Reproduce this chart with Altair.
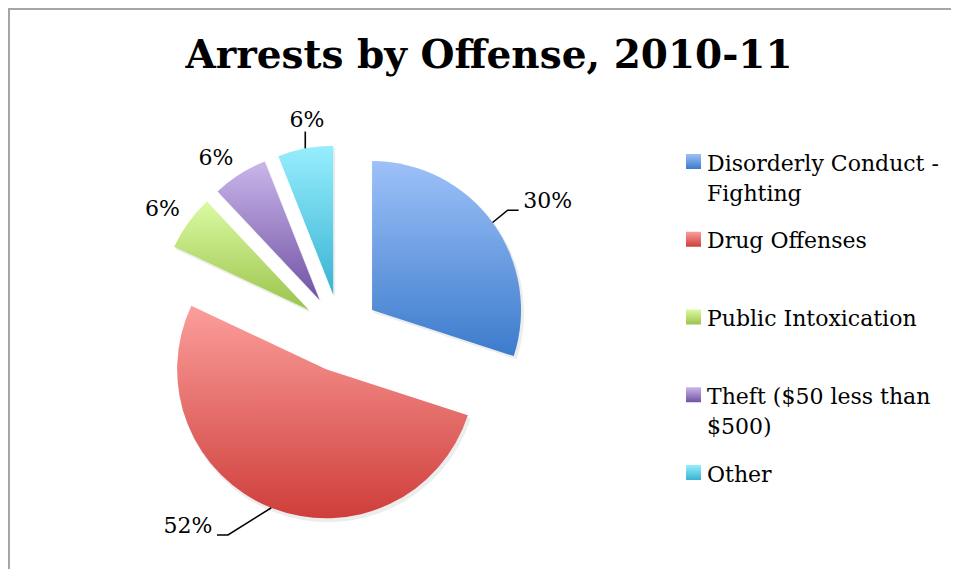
import math
import altair as alt
import pandas as pd

# ---------------- data ----------------
categories = [
    "Disorderly Conduct - Fighting",
    "Drug Offenses",
    "Public Intoxication",
    "Theft ($50 less than $500)",
    "Other",
]
legend_labels = [
    "Disorderly Conduct -\nFighting",
    "Drug Offenses",
    "Public Intoxication",
    "Theft ($50 less than\n$500)",
    "Other",
]
values = [30, 52, 6, 6, 6]
pct_labels = ["30%", "52%", "6%", "6%", "6%"]
title_text = "Arrests by Offense, 2010-11"

# ---------------- style / layout ----------------
top_colors = ["#9DC1F8", "#FB9E9B", "#DBFAA2", "#C9B6EA", "#97EEFD"]
bottom_colors = ["#3C7BCC", "#CF3E3A", "#9BC44C", "#7152A4", "#39B3D3"]
W, H = 943, 561
CX, CY = 332.5, 325.0      # pie centre (canvas px)
R = 149                    # radius
EXPLODE = 39               # explosion distance
label_nudge = [4.2, 19.8, -1.5, -3.7, 2.3]      # degrees
label_dist = [206.6, 208.9, 177.7, 175.9, 177.1]
leader_kind = ["side", "side", None, None, "below"]
FONT = "DejaVu Serif"
FS = 22


def direction(deg):
    rad = math.radians(deg)
    return math.sin(rad), -math.cos(rad)


total = sum(values)
rows, lead_rows = [], []
cum = 0.0
for i, (cat, v) in enumerate(zip(categories, values)):
    start = cum / total * 100
    cum += v
    end = cum / total * 100
    mid = (start + end) / 2 * 3.6
    dx, dy = direction(mid)
    vx, vy = CX + EXPLODE * dx, CY + EXPLODE * dy
    ldx, ldy = direction(mid + label_nudge[i])
    lx, ly = vx + label_dist[i] * ldx, vy + label_dist[i] * ldy
    rows.append(dict(category=cat, legend=legend_labels[i], value=v, label=pct_labels[i],
                     start=start, end=end, vx=vx, vy=vy, sx=vx + 2, sy=vy + 3,
                     lx=lx, ly=ly, idx=i))
    ax, ay = vx + R * dx, vy + R * dy
    if leader_kind[i] == "side":
        side = 1 if lx > vx else -1
        bx, by = lx - side * 29, ly + 9
        pts = [(ax, ay), (bx - side * 11, by), (bx, by)]
    elif leader_kind[i] == "below":
        pts = [(ax, ay), (ax, ly + 12)]
    else:
        pts = []
    for k, (px, py) in enumerate(pts):
        lead_rows.append(dict(category=cat, seq=k, px=px, py=py))

df = pd.DataFrame(rows)
lead_df = pd.DataFrame(lead_rows)

theta_scale = alt.Scale(domain=[0, 100])


def grad(i):
    return {
        "gradient": "linear", "x1": 0, "y1": 0, "x2": 0, "y2": 1,
        "stops": [{"offset": 0, "color": top_colors[i]},
                  {"offset": 1, "color": bottom_colors[i]}],
    }


layers = []

# frame
layers.append(alt.Chart(df).mark_rule(color="#A6A6A6", strokeWidth=2).encode(
    x=alt.value(1), x2=alt.value(W), y=alt.value(1)))
layers.append(alt.Chart(df).mark_rule(color="#A6A6A6", strokeWidth=2).encode(
    x=alt.value(1), y=alt.value(0), y2=alt.value(H)))

for i, cat in enumerate(categories):
    base = alt.Chart(df).transform_filter(alt.FieldEqualPredicate(field="category", equal=cat))
    # soft shadow
    layers.append(base.mark_arc(outerRadius=R + 1, fill="#000000", opacity=0.07).encode(
        theta=alt.Theta("start:Q", scale=theta_scale),
        theta2="end:Q",
        x=alt.X("sx:Q", scale=None, axis=None),
        y=alt.Y("sy:Q", scale=None, axis=None)))
    layers.append(base.mark_arc(outerRadius=R, fill=grad(i)).encode(
        theta=alt.Theta("start:Q", scale=theta_scale),
        theta2="end:Q",
        x=alt.X("vx:Q", scale=None, axis=None),
        y=alt.Y("vy:Q", scale=None, axis=None),
        tooltip=["category:N", "value:Q"]))

# leader lines
layers.append(alt.Chart(lead_df).mark_line(color="#000000", strokeWidth=1.6).encode(
    x=alt.X("px:Q", scale=None, axis=None),
    y=alt.Y("py:Q", scale=None, axis=None),
    detail="category:N",
    order="seq:Q"))

# percentage labels
layers.append(alt.Chart(df).mark_text(font=FONT, fontSize=FS, color="#000000",
                                      align="center", baseline="middle").encode(
    x=alt.X("lx:Q", scale=None, axis=None),
    y=alt.Y("ly:Q", scale=None, axis=None),
    text="label:N"))

# title
layers.append(alt.Chart(df).transform_filter("datum.idx == 0").mark_text(
    font=FONT, fontWeight="bold", fontSize=39, color="#000000",
    align="center", baseline="alphabetic", text=title_text).encode(
    x=alt.value(481), y=alt.value(60)))

# legend
legend_y = alt.Y("category:N", scale=alt.Scale(domain=categories, range=[153.5, 464.5],
                                               type="point", padding=0), axis=None)
for i, cat in enumerate(categories):
    base = alt.Chart(df).transform_filter(alt.FieldEqualPredicate(field="category", equal=cat))
    layers.append(base.mark_square(size=225, fill=grad(i), opacity=1).encode(
        x=alt.value(685.5), y=legend_y))
layers.append(alt.Chart(df).mark_text(font=FONT, fontSize=FS, color="#000000", align="left",
                                      baseline="top", lineBreak="\n", lineHeight=30, dy=-8).encode(
    x=alt.value(699), y=legend_y, text="legend:N"))

chart = alt.layer(*layers).resolve_scale(y="independent", x="independent").properties(
    width=W, height=H, autosize=alt.AutoSizeParams(type="none"), padding=0
).configure_view(stroke=None)

chart.save("out.html", embed_options={"renderer": "svg", "actions": False})
